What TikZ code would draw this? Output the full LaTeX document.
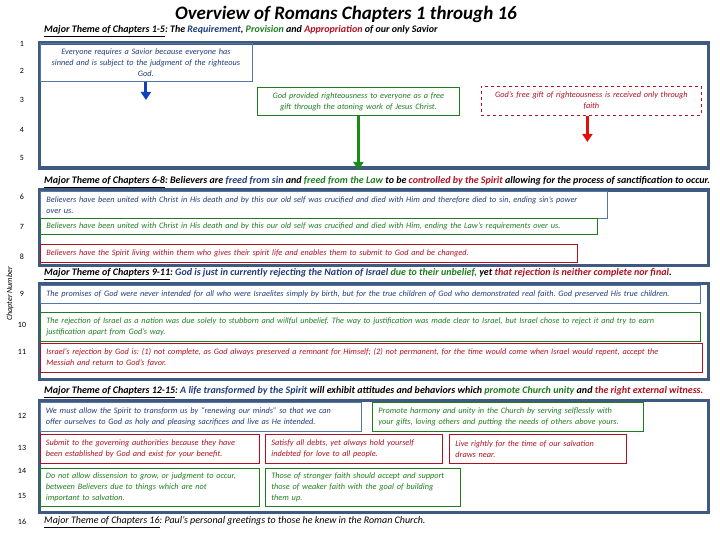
\documentclass[tikz,border=0pt]{standalone}
\usepackage{fontspec}
\setmainfont{Carlito}
\usetikzlibrary{arrows.meta}
\frenchspacing

\definecolor{framecol}{HTML}{3F5A80}
\definecolor{txtblue}{HTML}{1F3C7A}
\definecolor{lineblue}{HTML}{5677A3}
\definecolor{txtgreen}{HTML}{1E7D1E}
\definecolor{txtred}{HTML}{B01020}
\definecolor{arrblue}{HTML}{1040C0}
\definecolor{arrgreen}{HTML}{1A8C1A}
\definecolor{arrred}{HTML}{E01010}

\newcommand{\bl}[1]{\textcolor{txtblue}{#1}}
\newcommand{\gr}[1]{\textcolor{txtgreen}{#1}}
\newcommand{\rd}[1]{\textcolor{txtred}{#1}}

\begin{document}
\begin{tikzpicture}[x=1pt,y=-1pt,
  panel/.style={draw=framecol,line width=3.5pt,anchor=north west,inner sep=0pt},
  tbox/.style={anchor=north west,inner xsep=6pt,inner ysep=0pt,align=left,
    font=\fontsize{8.3}{11}\selectfont\itshape,line width=0.8pt},
  bluebox/.style={tbox,draw=lineblue,text=txtblue},
  greenbox/.style={tbox,draw=txtgreen,text=txtgreen},
  redbox/.style={tbox,draw=txtred,text=txtred},
  theme/.style={anchor=west,inner sep=0pt,font=\fontsize{10}{12}\selectfont\bfseries\itshape},
  rownum/.style={inner sep=0pt,font=\fontsize{8}{10}\selectfont},
  arrow/.style={line width=3pt,-{Triangle[width=10pt,length=8pt]}}]
\useasboundingbox (0,0) rectangle (720,540);

\node[font=\fontsize{19}{21}\selectfont\bfseries\itshape] (title) at (346,14) {Overview of Romans Chapters 1 through 16};

% row numbers
\foreach \n/\y in {1/44,2/71,3/100,4/130,5/158,6/197,7/227,8/257,9/294,10/325,11/352,12/416,13/448,14/471,15/496,16/522}
  \node[rownum] (r\n) at (22,\y) {\n};
\node[rotate=90,inner sep=0pt,font=\fontsize{8}{10}\selectfont\itshape] (chap) at (10,294) {Chapter Number};

% chapters 1-5
\node[theme] (th1) at (44,31) {\underline{Major Theme of Chapters 1-5}: The \bl{Requirement}, \gr{Provision} and \rd{Appropriation} of our only Savior};
\node[panel,minimum width=669pt,minimum height=125pt] (p1) at (37.5,41.5) {};
\node[bluebox,align=center,text width=200pt,minimum height=38pt] (b1) at (39.5,43) {Everyone requires a Savior because everyone has\\sinned and is subject to the judgment of the righteous\\God.};
\node[greenbox,align=center,text width=190pt,minimum height=28pt] (b2) at (257,87) {God provided righteousness to everyone as a free\\gift through the atoning work of Jesus Christ.};
\node[redbox,dashed,align=center,text width=208pt,minimum height=29pt] (b3) at (481,86) {God's free gift of righteousness is received only through\\faith};
\coordinate (e1) at (0,100);
\coordinate (e3) at (0,142);
\draw[arrow,arrblue] (b1.south) -- (b1.south |- e1);
\draw[arrow,arrgreen] (b2.south) -- (b2.south |- p1.south);
\draw[arrow,arrred] ([xshift=-4pt]b3.south) -- ([xshift=-4pt]b3.south |- e3);

% chapters 6-8
\node[theme] (th2) at (44,182) {\underline{Major Theme of Chapters 6-8}: Believers are \bl{freed from sin} and \gr{freed from the Law} to be \rd{controlled by the Spirit} allowing for the process of sanctification to occur.};
\node[panel,minimum width=669pt,minimum height=75pt] (p2) at (37.5,188.5) {};
\node[bluebox,text width=555pt,minimum height=27pt] (b6) at (40,191) {Believers have been united with Christ in His death and by this our old self was crucified and died with Him and therefore died to sin, ending sin's power\\over us.};
\node[greenbox,text width=545pt,minimum height=16pt] (b7) at (40,218) {Believers have been united with Christ in His death and by this our old self was crucified and died with Him, ending the Law's requirements over us.};
\node[redbox,text width=525pt,minimum height=18pt] (b8) at (40,244) {Believers have the Spirit living within them who gives their spirit life and enables them to submit to God and be changed.};

% chapters 9-11
\node[theme] (th3) at (44,274) {\underline{Major Theme of Chapters 9-11}: \bl{God is just in currently rejecting the Nation of Israel} \gr{due to their unbelief,} yet \rd{that rejection is neither complete nor final}.};
\node[panel,minimum width=669pt,minimum height=96pt] (p3) at (37.5,281.5) {};
\node[bluebox,text width=648pt,minimum height=18pt] (b9) at (40,285) {The promises of God were never intended for all who were Israelites simply by birth, but for the true children of God who demonstrated real faith. God preserved His true children.};
\node[greenbox,text width=648pt,minimum height=29pt] (b10) at (40,312) {The rejection of Israel as a nation was due solely to stubborn and willful unbelief. The way to justification was made clear to Israel, but Israel chose to reject it and try to earn\\justification apart from God's way.};
\node[redbox,text width=650pt,minimum height=29pt] (b11) at (40,343) {Israel's rejection by God is: (1) not complete, as God always preserved a remnant for Himself; (2) not permanent, for the time would come when Israel would repent, accept the\\Messiah and return to God's favor.};

% chapters 12-15
\node[theme] (th4) at (44,392) {\underline{Major Theme of Chapters 12-15}: \bl{A life transformed by the Spirit} will exhibit attitudes and behaviors which \gr{promote Church unity} and \rd{the right external witness.}};
\node[panel,minimum width=669pt,minimum height=112pt] (p4) at (37.5,398.5) {};
\node[bluebox,text width=309pt,minimum height=29pt] (b12) at (39.5,402) {We must allow the Spirit to transform us by ``renewing our minds'' so that we can\\offer ourselves to God as holy and pleasing sacrifices and live as He intended.};
\node[greenbox,text width=259pt,minimum height=29pt] (b12b) at (372,402) {Promote harmony and unity in the Church by serving selflessly with\\your gifts, loving others and putting the needs of others above yours.};
\node[redbox,text width=207pt,minimum height=29pt] (b13) at (39.5,434) {Submit to the governing authorities because they have\\been established by God and exist for your benefit.};
\node[redbox,text width=165pt,minimum height=29pt] (b13b) at (265,434) {Satisfy all debts, yet always hold yourself\\indebted for love to all people.};
\node[redbox,text width=165pt,minimum height=29pt] (b13c) at (449,434) {Live rightly for the time of our salvation\\draws near.};
\node[greenbox,text width=207pt,minimum height=38pt] (b14) at (39.5,468) {Do not allow dissension to grow, or judgment to occur,\\between Believers due to things which are not\\important to salvation.};
\node[greenbox,text width=183pt,minimum height=38pt] (b14b) at (265,468) {Those of stronger faith should accept and support\\those of weaker faith with the goal of building\\them up.};

% chapter 16
\node[theme,font=\fontsize{10}{12}\selectfont\itshape] (th5) at (44,522) {\underline{Major Theme of Chapters 16}: Paul's personal greetings to those he knew in the Roman Church.};
\end{tikzpicture}
\end{document}
